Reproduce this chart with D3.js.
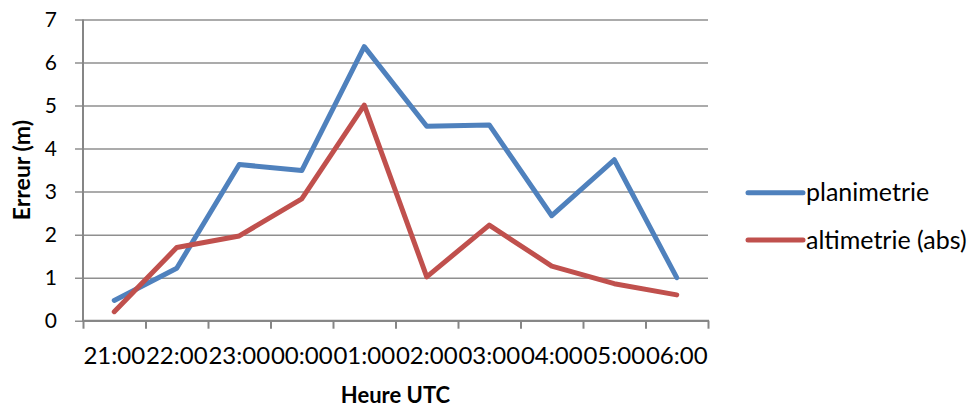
<!DOCTYPE html>
<meta charset="utf-8">
<style>
  body { margin: 0; background: #fff; }
  svg { font-family: Lato, 'Open Sans', sans-serif; }
</style>
<svg width="975" height="407"></svg>
<script src="https://d3js.org/d3.v7.min.js"></script>
<script>

var hours = ["21:00", "22:00", "23:00", "00:00", "01:00", "02:00", "03:00", "04:00", "05:00", "06:00"];
var planimetrie = [0.47, 1.22, 3.63, 3.49, 6.37, 4.52, 4.55, 2.44, 3.74, 1.0];
var altimetrie = [0.21, 1.70, 1.97, 2.83, 5.01, 1.02, 2.22, 1.27, 0.86, 0.60];
var yTicks = [0, 1, 2, 3, 4, 5, 6, 7];

var series = [
  {name: "planimetrie", values: planimetrie, color: "#4F81BD"},
  {name: "altimetrie (abs)", values: altimetrie, color: "#C0504D"}
];

var svg = d3.select("svg");
var plotLeft = 83, plotRight = 708, plotTop = 19.5, plotBottom = 320.7;

var x = d3.scaleBand().domain(hours).range([plotLeft, plotRight]);
var xEdge = d3.scaleLinear().domain([0, hours.length]).range([plotLeft, plotRight]);
var y = d3.scaleLinear().domain([0, 7]).range([plotBottom, plotTop]);

// gridlines + y labels
var gy = svg.append("g")
    .attr("transform", "translate(" + plotLeft + ",0)")
    .call(d3.axisLeft(y).tickValues(yTicks).tickFormat(d3.format("d"))
      .tickSize(-(plotRight - plotLeft)).tickPadding(26));
gy.select(".domain").remove();
gy.selectAll(".tick line")
    .attr("x1", -8)
    .attr("stroke", "#8f8f8f")
    .attr("stroke-width", 1.5);
gy.selectAll(".tick text")
    .attr("font-size", "21px")
    .attr("fill", "#000")
    .attr("font-family", "Lato");

// y axis line
svg.append("line")
    .attr("x1", plotLeft).attr("x2", plotLeft)
    .attr("y1", plotTop).attr("y2", plotBottom)
    .attr("stroke", "#868686").attr("stroke-width", 2);

// x axis tick marks at category edges
var gxe = svg.append("g")
    .attr("transform", "translate(0," + plotBottom + ")")
    .call(d3.axisBottom(xEdge).ticks(hours.length).tickSize(8).tickFormat(""));
gxe.select(".domain").remove();
gxe.selectAll(".tick line").attr("stroke", "#868686").attr("stroke-width", 2);

svg.append("line")
    .attr("x1", plotLeft - 1).attr("x2", plotRight + 1)
    .attr("y1", plotBottom).attr("y2", plotBottom)
    .attr("stroke", "#868686").attr("stroke-width", 2);

// x labels
var gx = svg.append("g")
    .attr("transform", "translate(0," + plotBottom + ")")
    .call(d3.axisBottom(x).tickSize(0).tickPadding(26));
gx.select(".domain").remove();
gx.selectAll(".tick text")
    .attr("font-size", "24px")
    .attr("fill", "#000")
    .attr("font-family", "Lato");

// lines
var line = d3.line()
    .x(function(d, i) { return x(hours[i]) + x.bandwidth() / 2; })
    .y(function(d) { return y(d); });

svg.selectAll(".series")
    .data(series)
    .enter().append("path")
    .attr("class", "series")
    .attr("d", function(d) { return line(d.values); })
    .attr("fill", "none")
    .attr("stroke", function(d) { return d.color; })
    .attr("stroke-width", 5)
    .attr("stroke-linejoin", "round")
    .attr("stroke-linecap", "round");

// axis titles
svg.append("text")
    .attr("x", (plotLeft + plotRight) / 2)
    .attr("y", 403)
    .attr("text-anchor", "middle")
    .attr("font-size", "22px")
    .attr("font-weight", "bold")
    .text("Heure UTC");

svg.append("text")
    .attr("transform", "translate(30," + ((plotTop + plotBottom) / 2) + ") rotate(-90)")
    .attr("text-anchor", "middle")
    .attr("font-size", "23px")
    .attr("font-weight", "bold")
    .text("Erreur (m)");

// legend
var legend = svg.selectAll(".legend")
    .data(series)
    .enter().append("g")
    .attr("class", "legend")
    .attr("transform", function(d, i) { return "translate(748," + (192.7 + i * 47.3) + ")"; });

legend.append("line")
    .attr("x1", 0).attr("x2", 55)
    .attr("stroke", function(d) { return d.color; })
    .attr("stroke-width", 5)
    .attr("stroke-linecap", "round");

legend.append("text")
    .attr("x", 58)
    .attr("dy", "0.35em")
    .attr("font-size", "25px")
    .text(function(d) { return d.name; });

</script>
